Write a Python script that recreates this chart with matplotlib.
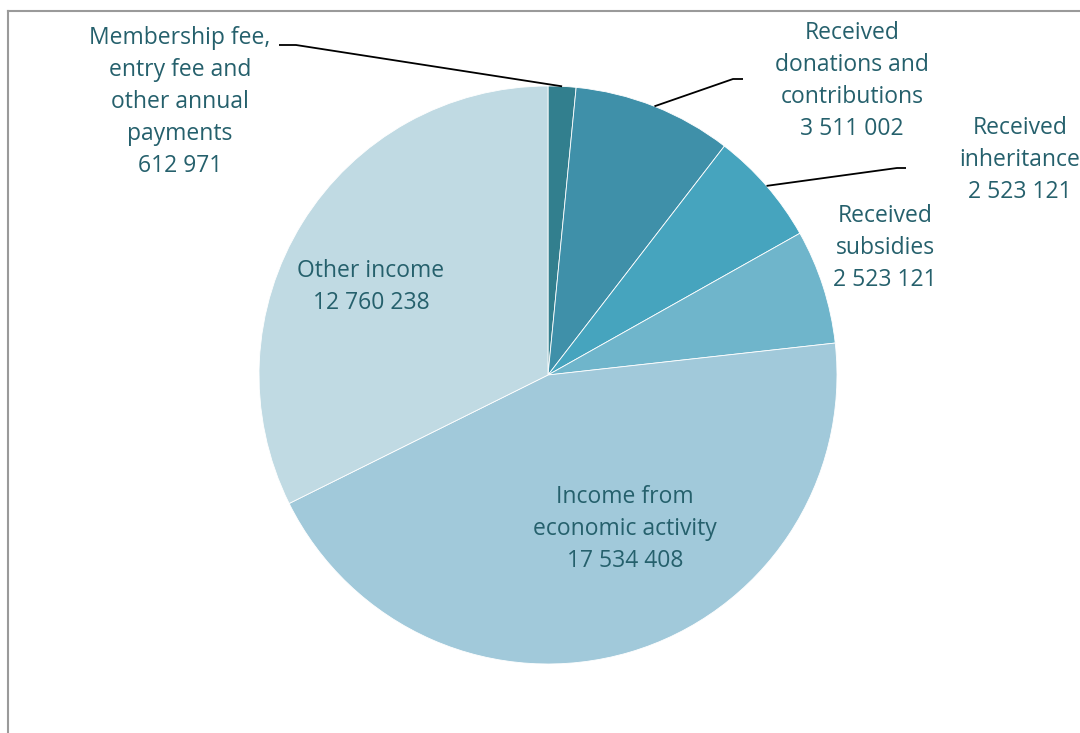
import numpy as np
import matplotlib
matplotlib.use("Agg")
import matplotlib.pyplot as plt
from matplotlib.lines import Line2D

categories = [
    "Membership fee,\nentry fee and\nother annual\npayments",
    "Received\ndonations and\ncontributions",
    "Received\ninheritance",
    "Received\nsubsidies",
    "Income from\neconomic activity",
    "Other income",
]
values = [612971, 3511002, 2523121, 2523121, 17534408, 12760238]
colors = ["#327f8e", "#3f90a9", "#46a4be", "#6fb5cb", "#a1c9da", "#c0dae3"]

W, H = 1080, 733
fig = plt.figure(figsize=(W / 100, H / 100), dpi=100)
ax = fig.add_axes([0, 0, 1, 1])
ax.set_xlim(0, W)
ax.set_ylim(0, H)
ax.axis("off")

def Y(y):
    return H - y

cx, cy, R = 548, Y(375), 289
wedges, _ = ax.pie(values, center=(cx, cy), radius=R, startangle=90,
                   counterclock=False, colors=colors,
                   wedgeprops=dict(edgecolor="white", linewidth=0.6))
ax.set_xlim(0, W)
ax.set_ylim(0, H)
ax.set_aspect("equal")

txt_color = "#25606c"
font = dict(fontsize=16.5, color=txt_color, family="Open Sans",
            ha="center", va="center", linespacing=1.45)

def fmt(v):
    return f"{v:,}".replace(",", " ")

# label layout (centre positions in pixel coords)
label_pos = [(180, 102), (852, 81), (1020, 160), (885, 248), (625, 529), (371, 287)]
for i, (lab, v) in enumerate(zip(categories, values)):
    x, y = label_pos[i]
    ax.text(x, Y(y), f"{lab}\n{fmt(v)}", **font)

def edge_point(w):
    th = np.deg2rad((w.theta1 + w.theta2) / 2)
    return cx + R * np.cos(th), cy + R * np.sin(th)

# leader lines: (start, elbow) then to wedge edge
leaders = {0: [(279, 45), (296, 45)], 1: [(743, 79), (733, 79)], 2: [(906, 168), (897, 168)]}
for i, pts in leaders.items():
    ex, ey = edge_point(wedges[i])
    xs = [p[0] for p in pts] + [ex]
    ys = [Y(p[1]) for p in pts] + [ey]
    ax.plot(xs, ys, color="black", lw=1.3, solid_capstyle="butt")

# chart frame (top and left visible)
fig.add_artist(Line2D([8 / W, 1.0], [1 - 11 / H, 1 - 11 / H], color="#9a9a9a", lw=1.5))
fig.add_artist(Line2D([8 / W, 8 / W], [0, 1 - 11 / H], color="#9a9a9a", lw=1.5))

fig.savefig("out.png", dpi=100)
